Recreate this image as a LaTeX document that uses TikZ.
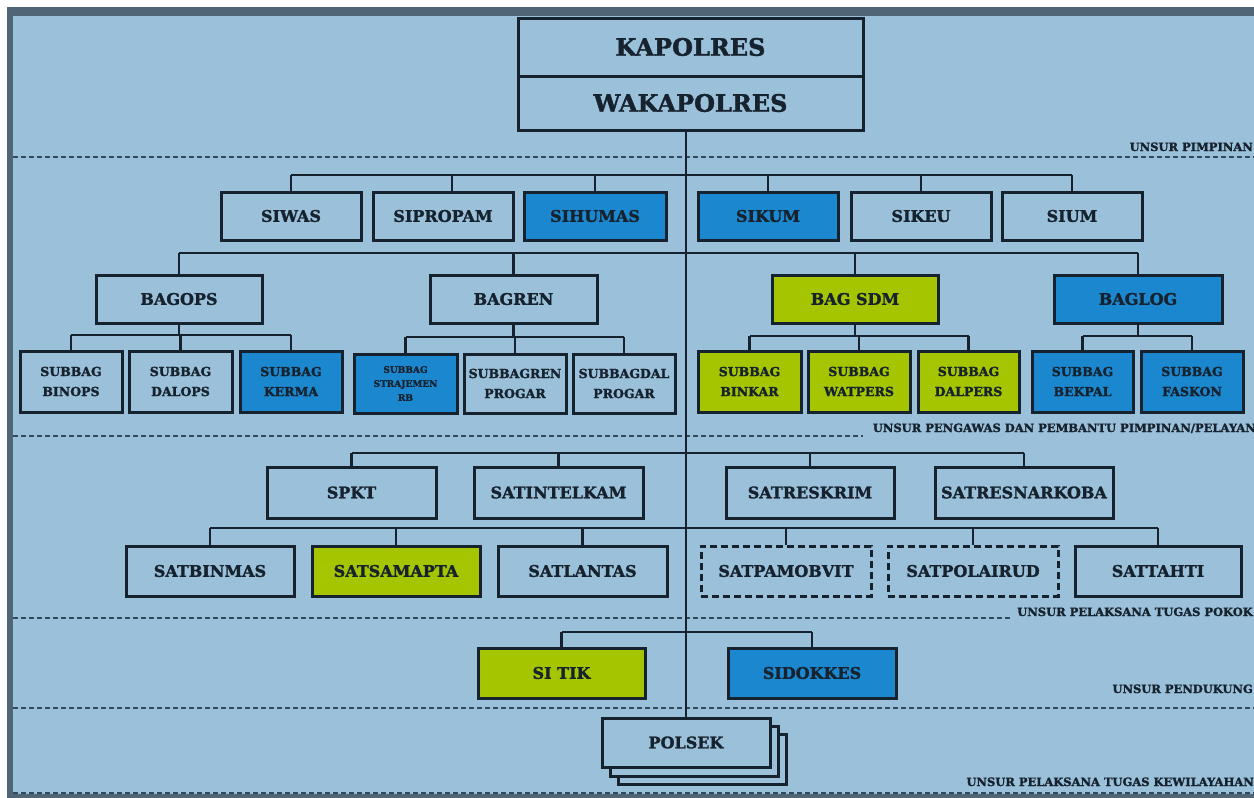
\documentclass[tikz,border=0pt]{standalone}
\usepackage{fontspec}
\setmainfont{DejaVu Serif}[BoldFeatures={FakeBold=1.6}]
\definecolor{bgc}{HTML}{9BC1DA}
\definecolor{framec}{HTML}{506677}
\definecolor{bluec}{HTML}{1B87CF}
\definecolor{greenc}{HTML}{A5C500}
\definecolor{inkc}{HTML}{16222E}
\definecolor{dashc}{HTML}{33495C}
\newcommand{\bx}[7]{\node[box,#6,minimum width={#3-#2},minimum height={#5-#4}] (#1) at ({(#2+#3)/2},{(#4+#5)/2}) {#7};}
\tikzset{
  box/.style={draw=inkc, line width=3pt, fill=bgc, inner sep=0pt, text=inkc, align=center, font=\bfseries\fontsize{16}{19}\selectfont},
  bluebox/.style={fill=bluec},
  greenbox/.style={fill=greenc},
  plainbox/.style={},
  subfont/.style={font=\bfseries\fontsize{12.5}{20}\selectfont},
  dashbox/.style={dash pattern=on 7pt off 4pt},
  conn/.style={draw=inkc, line width=2.8pt},
  sep/.style={draw=dashc, line width=1.5pt, dash pattern=on 5pt off 3pt},
  lbl/.style={anchor=base east, inner sep=0pt, text=inkc, font=\bfseries\fontsize{11.5}{13}\selectfont}
}
\begin{document}
\begin{tikzpicture}[x=1pt,y=-1pt]
\useasboundingbox (0,0) rectangle (1254,798);
\clip (0,0) rectangle (1254,798);
% frame and background
\fill[framec] (7,7) rectangle (1260,800);
\fill[bgc] (13,16) rectangle (1260,794);
% separators
\draw[sep] (13,157) -- (1254,157);
\draw[sep] (13,436) -- (863,436);
\draw[sep] (13,618) -- (1012,618);
\draw[sep] (13,708) -- (1254,708);
\draw[sep] (13,793) -- (1254,793);
% labels
\node[lbl] (l1) at (1253,151) {UNSUR PIMPINAN};
\node[lbl] (l2) at (1256,432) {UNSUR PENGAWAS DAN PEMBANTU PIMPINAN/PELAYAN};
\node[lbl] (l3) at (1253,616) {UNSUR PELAKSANA TUGAS POKOK};
\node[lbl] (l4) at (1253,693) {UNSUR PENDUKUNG};
\node[lbl] (l5) at (1254,786) {UNSUR PELAKSANA TUGAS KEWILAYAHAN};
% top
\bx{kapolres}{518}{863}{18}{76}{font=\bfseries\fontsize{24}{28}\selectfont}{KAPOLRES}
\bx{wakapolres}{518}{863}{76}{130}{font=\bfseries\fontsize{24}{28}\selectfont}{WAKAPOLRES}
% row 1
\bx{siwas}{221}{361}{192}{240}{plainbox}{SIWAS}
\bx{sipropam}{373}{513}{192}{240}{plainbox}{SIPROPAM}
\bx{sihumas}{524}{666}{192}{240}{bluebox}{SIHUMAS}
\bx{sikum}{698}{838}{192}{240}{bluebox}{SIKUM}
\bx{sikeu}{851}{991}{192}{240}{plainbox}{SIKEU}
\bx{sium}{1002}{1142}{192}{240}{plainbox}{SIUM}
% row 2
\bx{bagops}{96}{262}{275}{323}{plainbox}{BAGOPS}
\bx{bagren}{430}{597}{275}{323}{plainbox}{BAGREN}
\bx{bagsdm}{772}{938}{275}{323}{greenbox}{BAG SDM}
\bx{baglog}{1054}{1222}{275}{323}{bluebox}{BAGLOG}
% row 3
\bx{binops}{20}{122}{351}{412}{subfont}{SUBBAG\\BINOPS}
\bx{dalops}{129}{232}{351}{412}{subfont}{SUBBAG\\DALOPS}
\bx{kerma}{240}{342}{351}{412}{subfont,bluebox}{SUBBAG\\KERMA}
\bx{strajemen}{354}{457}{354}{413}{bluebox,font=\bfseries\fontsize{9}{14}\selectfont}{SUBBAG\\STRAJEMEN\\RB}
\bx{subbagren}{464}{566}{354}{413}{subfont}{SUBBAGREN\\PROGAR}
\bx{subbagdal}{573}{675}{354}{413}{subfont}{SUBBAGDAL\\PROGAR}
\bx{binkar}{698}{801}{351}{412}{subfont,greenbox}{SUBBAG\\BINKAR}
\bx{watpers}{808}{910}{351}{412}{subfont,greenbox}{SUBBAG\\WATPERS}
\bx{dalpers}{918}{1019}{351}{412}{subfont,greenbox}{SUBBAG\\DALPERS}
\bx{bekpal}{1032}{1133}{351}{412}{subfont,bluebox}{SUBBAG\\BEKPAL}
\bx{faskon}{1141}{1243}{351}{412}{subfont,bluebox}{SUBBAG\\FASKON}
% row 4
\bx{spkt}{267}{436}{467}{518}{plainbox}{SPKT}
\bx{satintelkam}{474}{643}{467}{518}{plainbox}{SATINTELKAM}
\bx{satreskrim}{726}{894}{467}{518}{plainbox}{SATRESKRIM}
\bx{satresnarkoba}{935}{1113}{467}{518}{plainbox}{SATRESNARKOBA}
% row 5
\bx{satbinmas}{126}{294}{546}{596}{plainbox}{SATBINMAS}
\bx{satsamapta}{312}{480}{546}{596}{greenbox}{SATSAMAPTA}
\bx{satlantas}{498}{667}{546}{596}{plainbox}{SATLANTAS}
\bx{satpamobvit}{701}{871}{546}{596}{dashbox}{SATPAMOBVIT}
\bx{satpolairud}{888}{1058}{546}{596}{dashbox}{SATPOLAIRUD}
\bx{sattahti}{1075}{1241}{546}{596}{plainbox}{SATTAHTI}
% row 6
\bx{sitik}{478}{645}{648}{698}{greenbox}{SI TIK}
\bx{sidokkes}{728}{896}{648}{698}{bluebox}{SIDOKKES}
% polsek stack
\bx{polsekc}{618}{786}{734}{784}{plainbox}{}
\bx{polsekb}{610}{778}{726}{776}{plainbox}{}
\bx{polsek}{602}{770}{718}{767}{plainbox}{POLSEK}
% trunk
\draw[conn] (polsek.north) -- (polsek.north |- wakapolres.south);
% row 1 connectors
\draw[conn] (siwas.north |- 0,175) -- (sium.north |- 0,175);
\foreach \n in {siwas,sihumas,sikum,sikeu,sium}
  \draw[conn] (\n.north) -- (\n.north |- 0,175);
\draw[conn] ([xshift=9pt]sipropam.north) -- ([xshift=9pt]sipropam.north |- 0,175);
% row 2 connectors
\draw[conn] (bagops.north |- 0,253) -- (baglog.north |- 0,253);
\foreach \n in {bagops,bagren,bagsdm,baglog}
  \draw[conn] (\n.north) -- (\n.north |- 0,253);
% sub connectors
\draw[conn] (bagops.south) -- (bagops.south |- 0,335);
\draw[conn] (binops.north |- 0,335) -- (kerma.north |- 0,335);
\foreach \n in {binops,dalops,kerma}
  \draw[conn] (\n.north) -- (\n.north |- 0,335);
\draw[conn] (bagren.south) -- (bagren.south |- 0,337);
\draw[conn] (strajemen.north |- 0,337) -- (subbagdal.north |- 0,337);
\foreach \n in {strajemen,subbagren,subbagdal}
  \draw[conn] (\n.north) -- (\n.north |- 0,337);
\draw[conn] (bagsdm.south) -- (bagsdm.south |- 0,336);
\draw[conn] (binkar.north |- 0,336) -- (dalpers.north |- 0,336);
\foreach \n in {binkar,watpers,dalpers}
  \draw[conn] (\n.north) -- (\n.north |- 0,336);
\draw[conn] (baglog.south) -- (baglog.south |- 0,336);
\draw[conn] (bekpal.north |- 0,336) -- (faskon.north |- 0,336);
\foreach \n in {bekpal,faskon}
  \draw[conn] (\n.north) -- (\n.north |- 0,336);
% row 4 connectors
\draw[conn] (spkt.north |- 0,453) -- (satresnarkoba.north |- 0,453);
\foreach \n in {spkt,satintelkam,satreskrim,satresnarkoba}
  \draw[conn] (\n.north) -- (\n.north |- 0,453);
% row 5 connectors
\draw[conn] (satbinmas.north |- 0,528) -- (sattahti.north |- 0,528);
\foreach \n in {satbinmas,satsamapta,satlantas,satpamobvit,satpolairud,sattahti}
  \draw[conn] (\n.north) -- (\n.north |- 0,528);
% row 6 connectors
\draw[conn] (sitik.north |- 0,632) -- (sidokkes.north |- 0,632);
\foreach \n in {sitik,sidokkes}
  \draw[conn] (\n.north) -- (\n.north |- 0,632);
\end{tikzpicture}
\end{document}
